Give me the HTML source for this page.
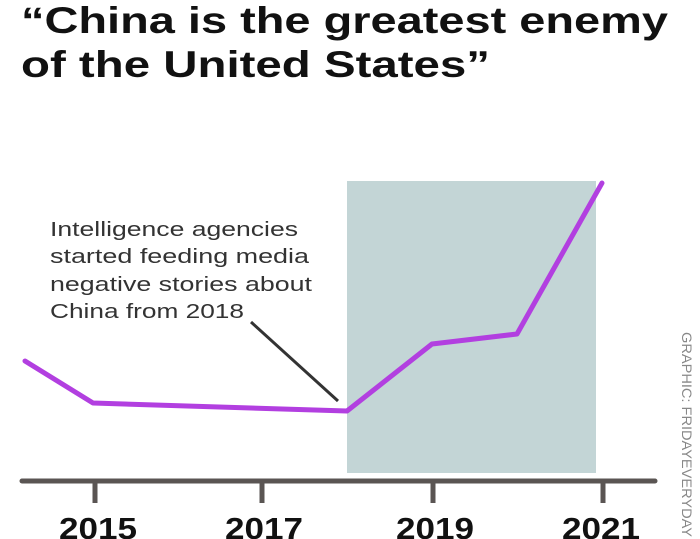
<!DOCTYPE html>
<html><head><style>body{margin:0;background:#fff}svg{display:block}</style></head>
<body>
<svg width="700" height="539" viewBox="0 0 700 539" xmlns="http://www.w3.org/2000/svg">
<rect width="700" height="539" fill="#fff"/>
<g font-family="Liberation Sans, sans-serif" font-weight="bold" fill="#111" font-size="37">
<text x="21" y="33" textLength="647" lengthAdjust="spacingAndGlyphs">“China is the greatest enemy</text>
<text x="21" y="77" textLength="469" lengthAdjust="spacingAndGlyphs">of the United States”</text>
</g>
<rect x="347" y="181" width="249" height="292" fill="#c3d5d6"/>
<g font-family="Liberation Sans, sans-serif" fill="#333" font-size="20">
<text x="50" y="236" textLength="248" lengthAdjust="spacingAndGlyphs">Intelligence agencies</text>
<text x="50" y="263" textLength="259" lengthAdjust="spacingAndGlyphs">started feeding media</text>
<text x="50" y="291" textLength="262" lengthAdjust="spacingAndGlyphs">negative stories about</text>
<text x="50" y="318" textLength="194" lengthAdjust="spacingAndGlyphs">China from 2018</text>
</g>
<line x1="251" y1="322" x2="338" y2="401" stroke="#333" stroke-width="3"/>
<polyline points="25,361 93,403 347,411 432,344 517,334 602,183" fill="none" stroke="#b23fe0" stroke-width="5" stroke-linejoin="round" stroke-linecap="round"/>
<line x1="22" y1="481" x2="655" y2="481" stroke="#5a5553" stroke-width="5" stroke-linecap="round"/>
<g stroke="#5a5553" stroke-width="5">
<line x1="95" y1="481" x2="95" y2="503"/>
<line x1="262" y1="481" x2="262" y2="503"/>
<line x1="433" y1="481" x2="433" y2="503"/>
<line x1="603" y1="481" x2="603" y2="503"/>
</g>
<g font-family="Liberation Sans, sans-serif" font-weight="bold" fill="#111" font-size="31" text-anchor="middle">
<text x="98" y="539" textLength="78" lengthAdjust="spacingAndGlyphs">2015</text>
<text x="264" y="539" textLength="78" lengthAdjust="spacingAndGlyphs">2017</text>
<text x="435" y="539" textLength="78" lengthAdjust="spacingAndGlyphs">2019</text>
<text x="601" y="539" textLength="78" lengthAdjust="spacingAndGlyphs">2021</text>
</g>
<text transform="translate(682,332) rotate(90)" font-family="Liberation Sans, sans-serif" font-size="14" fill="#888" textLength="205" lengthAdjust="spacingAndGlyphs">GRAPHIC: FRIDAYEVERYDAY</text>
</svg>
</body></html>
